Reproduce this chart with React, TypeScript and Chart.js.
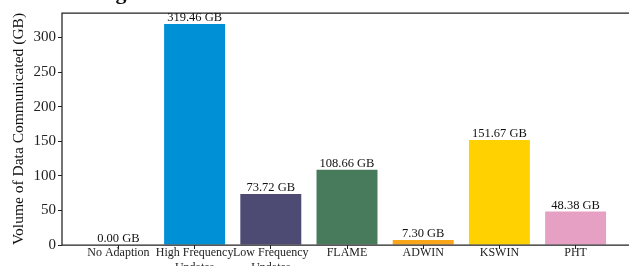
import { useEffect, useRef } from 'react';
import { Chart, registerables } from 'chart.js';

Chart.register(...registerables);

const categories: string[][] = [
  ['No Adaption'],
  ['High Frequency', 'Updates'],
  ['Low Frequency', 'Updates'],
  ['FLAME'],
  ['ADWIN'],
  ['KSWIN'],
  ['PHT'],
];
const values = [0.0, 319.46, 73.72, 108.66, 7.3, 151.67, 48.38];
const valueLabels = ['0.00 GB', '319.46 GB', '73.72 GB', '108.66 GB', '7.30 GB', '151.67 GB', '48.38 GB'];
const barColors = ['#0090D5', '#0090D5', '#4D4A73', '#487A5C', '#F9A61A', '#FFD100', '#E6A0C4'];
const yTicks = [0, 50, 100, 150, 200, 250, 300];
const yTitle = 'Volume of Data Communicated (GB)';
const titleFragment = 'g';

const FONT = '"Liberation Serif", "Times New Roman", serif';
const CANVAS_W = 640;
const CANVAS_H = 266;

export default function App() {
  const ref = useRef<HTMLCanvasElement | null>(null);

  useEffect(() => {
    if (!ref.current) return;
    const overlay = {
      id: 'overlay',
      afterDatasetsDraw(chart: any) {
        const ctx = chart.ctx;
        const a = chart.chartArea;
        ctx.save();
        // frame
        ctx.strokeStyle = '#222';
        ctx.lineWidth = 1.25;
        ctx.beginPath();
        ctx.moveTo(a.left, a.bottom);
        ctx.lineTo(a.left, a.top);
        ctx.lineTo(a.right, a.top);
        ctx.lineTo(a.right, a.bottom);
        ctx.lineTo(a.left, a.bottom);
        ctx.stroke();
        // value labels
        const meta = chart.getDatasetMeta(0);
        ctx.fillStyle = '#111';
        ctx.font = `12.5px ${FONT}`;
        ctx.textAlign = 'center';
        ctx.textBaseline = 'alphabetic';
        meta.data.forEach((bar: any, i: number) => {
          ctx.fillText(valueLabels[i], bar.x, bar.y - 3);
        });
        // y title
        ctx.save();
        ctx.translate(19, (a.top + a.bottom) / 2);
        ctx.rotate(-Math.PI / 2);
        ctx.font = `15.5px ${FONT}`;
        ctx.textAlign = 'center';
        ctx.textBaseline = 'middle';
        ctx.fillStyle = '#111';
        ctx.fillText(yTitle, 0, 0);
        ctx.restore();
        // cut-off title fragment
        ctx.font = `bold 22px ${FONT}`;
        ctx.textAlign = 'center';
        ctx.textBaseline = 'alphabetic';
        ctx.fillStyle = '#111';
        ctx.fillText(titleFragment, 121, -1);
        ctx.restore();
      },
    };

    const chart = new Chart(ref.current, {
      type: 'bar',
      data: {
        datasets: [
          {
            data: values.map((v, i) => ({ x: i, y: v })),
            backgroundColor: barColors,
            borderWidth: 0,
            barPercentage: 0.8,
            categoryPercentage: 1.0,
          },
        ],
      },
      options: {
        responsive: false,
        animation: false,
        events: [],
        layout: { padding: { top: 13, right: 8, left: 0, bottom: 0 } },
        plugins: {
          legend: { display: false },
          tooltip: { enabled: false },
          title: { display: false },
        },
        scales: {
          x: {
            type: 'linear',
            offset: false,
            min: -0.74,
            max: 6.74,
            afterBuildTicks: (scale: any) => {
              scale.ticks = categories.map((_, i) => ({ value: i }));
            },
            afterFit: (scale: any) => {
              scale.height = 21;
            },
            border: { display: false },
            grid: {
              display: true,
              offset: false,
              drawOnChartArea: false,
              drawTicks: true,
              tickLength: 4,
              color: '#222',
              lineWidth: 1,
            },
            ticks: {
              autoSkip: false,
              maxRotation: 0,
              minRotation: 0,
              padding: -3,
              color: '#222',
              font: { family: FONT, size: 12 },
              callback: (v: any) => categories[Math.round(Number(v))] ?? '',
            },
          },
          y: {
            type: 'linear',
            min: 0,
            max: 335.4,
            afterBuildTicks: (scale: any) => {
              scale.ticks = yTicks.map((v) => ({ value: v }));
            },
            afterFit: (scale: any) => {
              scale.width = 62;
            },
            border: { display: false },
            grid: {
              display: true,
              drawOnChartArea: false,
              drawTicks: true,
              tickLength: 4,
              color: '#222',
              lineWidth: 1,
            },
            ticks: {
              padding: 2,
              color: '#222',
              font: { family: FONT, size: 15 },
              callback: (v: any) => String(v),
            },
          },
        },
      },
      plugins: [overlay],
    } as any);

    return () => chart.destroy();
  }, []);

  return (
    <div
      style={{
        position: 'fixed',
        left: 0,
        top: 0,
        width: 629,
        height: 266,
        overflow: 'hidden',
        background: '#fff',
      }}
    >
      <canvas
        ref={ref}
        width={CANVAS_W}
        height={CANVAS_H}
        style={{ width: CANVAS_W, height: CANVAS_H, display: 'block' }}
      />
    </div>
  );
}
